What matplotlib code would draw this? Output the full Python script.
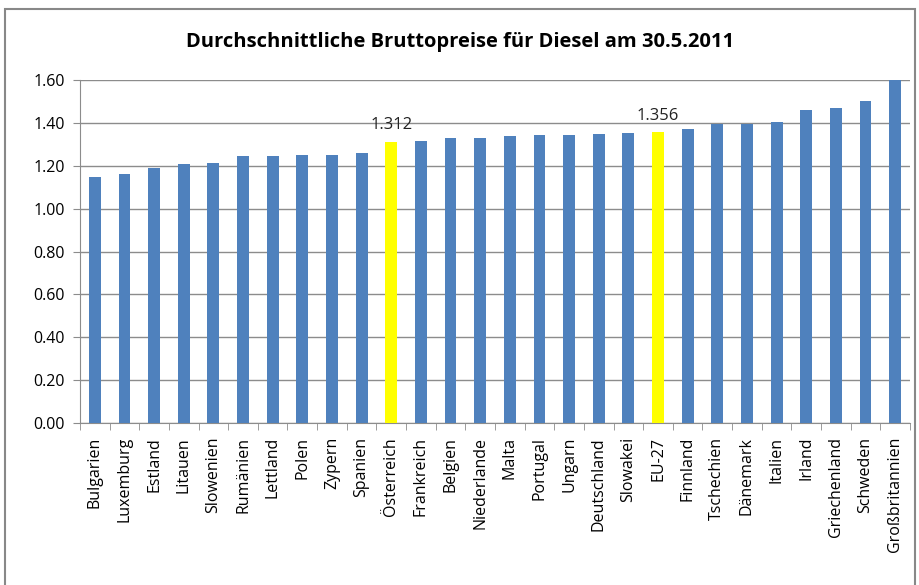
import matplotlib.pyplot as plt
from matplotlib.patches import Rectangle

# Data
countries = ["Bulgarien", "Luxemburg", "Estland", "Litauen", "Slowenien", "Rumänien",
             "Lettland", "Polen", "Zypern", "Spanien", "Österreich", "Frankreich",
             "Belgien", "Niederlande", "Malta", "Portugal", "Ungarn", "Deutschland",
             "Slowakei", "EU-27", "Finnland", "Tschechien", "Dänemark", "Italien",
             "Irland", "Griechenland", "Schweden", "Großbritannien"]
prices = [1.149, 1.163, 1.191, 1.208, 1.213, 1.245, 1.245, 1.250, 1.250, 1.258,
          1.312, 1.314, 1.331, 1.331, 1.339, 1.343, 1.343, 1.348, 1.353, 1.356,
          1.371, 1.396, 1.396, 1.402, 1.461, 1.471, 1.502, 1.600]
highlight = ["Österreich", "EU-27"]

plt.rcParams['font.family'] = ['Open Sans', 'DejaVu Sans']

fig = plt.figure(figsize=(9.2, 5.85), dpi=100)
ax = fig.add_axes([80 / 920, 1 - 423 / 585, 830 / 920, 343 / 585])

colors = ["#FFFF00" if c in highlight else "#4F81BD" for c in countries]
x = range(len(countries))
bars = ax.bar(x, prices, width=0.4, color=colors, zorder=3)

for b, c, v in zip(bars, countries, prices):
    if c in highlight:
        ax.text(b.get_x() + b.get_width() / 2, v + 0.04, f"{v:.3f}",
                ha="center", va="bottom", fontsize=12, color="#222222")

ax.set_ylim(0, 1.6)
ax.set_xlim(-0.5, len(countries) - 0.5)
ax.set_yticks([i * 0.2 for i in range(9)])
ax.set_yticklabels([f"{i * 0.2:.2f}" for i in range(9)], fontsize=11.5)
ax.yaxis.grid(True, color="#8C8C8C", linewidth=1, zorder=0)

ax.set_xticks(list(x))
ax.set_xticklabels(countries, rotation=90, fontsize=11.5)
ax.set_xticks([i - 0.5 for i in range(len(countries) + 1)], minor=True)
ax.tick_params(axis="x", which="major", length=0, pad=10)
ax.tick_params(axis="x", which="minor", length=5, color="#8C8C8C", direction="out")
ax.tick_params(axis="y", length=5, color="#8C8C8C", direction="out", pad=6)

for s in ["top", "right"]:
    ax.spines[s].set_visible(False)
for s in ["left", "bottom"]:
    ax.spines[s].set_color("#8C8C8C")

fig.text(0.5, 1 - 42 / 585, "Durchschnittliche Bruttopreise für Diesel am 30.5.2011",
         ha="center", va="center", fontsize=14.5, fontweight="bold")

fig.patches.append(Rectangle((5 / 920, -0.05), 910 / 920, 1.05 - 9 / 585,
                             transform=fig.transFigure, fill=False,
                             edgecolor="#888888", linewidth=1.5))

fig.savefig("out.png", dpi=100)
